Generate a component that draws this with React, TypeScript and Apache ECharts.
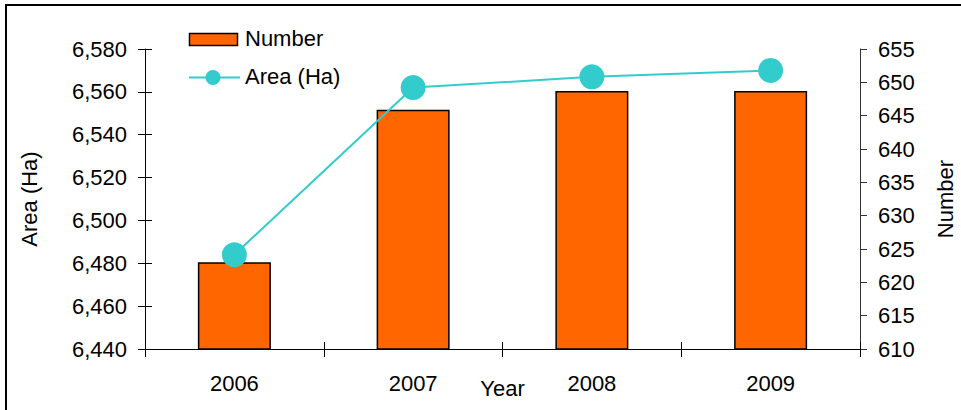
import React, { useEffect, useRef } from "react";
import * as echarts from "echarts";

const categories = ["2006", "2007", "2008", "2009"];
const numberValues = [623, 645.9, 648.7, 648.7];
const areaValues = [6484, 6562, 6567, 6570];
const areaAxis = { min: 6440, max: 6580, interval: 20 };
const numberAxis = { min: 610, max: 655, interval: 5 };
const legendNames = ["Number", "Area (Ha)"];
const axisNames = { x: "Year", left: "Area (Ha)", right: "Number" };

const FONT = "'Liberation Sans', Arial, Helvetica, sans-serif";
const FS = 22;
const ORANGE = "#FF6600";
const TEAL = "#33CCCC";

export default function App() {
  const ref = useRef<HTMLDivElement>(null);
  useEffect(() => {
    if (!ref.current) return;
    const chart = echarts.init(ref.current, undefined, { renderer: "svg" });
    const txt = { fontFamily: FONT, fontSize: FS, color: "#000" };
    chart.setOption({
      animation: false,
      backgroundColor: "#fff",
      textStyle: { fontFamily: FONT },
      grid: { left: 145, right: 101, top: 49, bottom: 61, containLabel: false, outerBoundsMode: "none" },
      xAxis: [
        {
          type: "category",
          data: categories,
          position: "bottom",
          axisLine: { show: true, lineStyle: { color: "#000", width: 1 } },
          axisTick: { show: true, length: 8, lineStyle: { color: "#000" } },
          axisLabel: { ...txt, margin: 23 },
          name: axisNames.x,
          nameLocation: "middle",
          nameGap: 28,
          nameMoveOverlap: false,
          nameTextStyle: { ...txt },
        },
        {
          type: "category",
          data: categories,
          position: "bottom",
          axisLine: { show: false },
          axisTick: { show: true, inside: true, length: 7, lineStyle: { color: "#000" } },
          axisLabel: { show: false },
        },
      ],
      yAxis: [
        {
          type: "value",
          position: "left",
          min: areaAxis.min,
          max: areaAxis.max,
          interval: areaAxis.interval,
          axisLine: { show: true, lineStyle: { color: "#000", width: 1 } },
          axisTick: { show: true, length: 7, lineStyle: { color: "#000" } },
          splitLine: { show: false },
          axisLabel: {
            ...txt,
            margin: 18,
            formatter: (v: number) => v.toLocaleString("en-US"),
          },
          name: axisNames.left,
          nameLocation: "middle",
          nameRotate: 90,
          nameGap: 105,
          nameTextStyle: { ...txt },
        },
        {
          type: "value",
          position: "right",
          min: numberAxis.min,
          max: numberAxis.max,
          interval: numberAxis.interval,
          axisLine: { show: true, lineStyle: { color: "#333", width: 1 } },
          axisTick: { show: true, length: 7, lineStyle: { color: "#333" } },
          splitLine: { show: false },
          axisLabel: { ...txt, margin: 18 },
          name: axisNames.right,
          nameLocation: "middle",
          nameRotate: 90,
          nameGap: 74,
          nameTextStyle: { ...txt },
        },
        {
          type: "value",
          position: "left",
          min: areaAxis.min,
          max: areaAxis.max,
          interval: areaAxis.interval,
          axisLine: { show: false },
          axisTick: { show: true, inside: true, length: 7, lineStyle: { color: "#000" } },
          splitLine: { show: false },
          axisLabel: { show: false },
        },
      ],
      series: [
        {
          name: legendNames[0],
          type: "bar",
          xAxisIndex: 0,
          yAxisIndex: 1,
          data: numberValues,
          barWidth: 73,
          itemStyle: { color: ORANGE, borderColor: "#000", borderWidth: 1.5 },
          z: 2,
        },
        {
          name: legendNames[1],
          type: "line",
          xAxisIndex: 0,
          yAxisIndex: 0,
          data: areaValues,
          symbol: "circle",
          symbolSize: 25,
          lineStyle: { color: TEAL, width: 2 },
          itemStyle: { color: TEAL },
          z: 3,
        },
      ],
      graphic: [
        {
          type: "rect",
          shape: { x: 6, y: 5, width: 1200, height: 800 },
          style: { fill: "none", stroke: "#000", lineWidth: 2 },
          silent: true,
          z: 10,
        },
        {
          type: "rect",
          shape: { x: 189.5, y: 33.5, width: 48, height: 12 },
          style: { fill: ORANGE, stroke: "#000", lineWidth: 1.5 },
          z: 10,
        },
        {
          type: "text",
          x: 245,
          y: 38.5,
          style: { text: legendNames[0], font: `${FS}px ${FONT}`, fill: "#000", textVerticalAlign: "middle", verticalAlign: "middle" },
          z: 10,
        },
        {
          type: "line",
          shape: { x1: 189, y1: 77.5, x2: 240, y2: 77.5 },
          style: { stroke: TEAL, lineWidth: 2 },
          z: 10,
        },
        {
          type: "circle",
          shape: { cx: 213, cy: 77.5, r: 7.5 },
          style: { fill: TEAL },
          z: 11,
        },
        {
          type: "text",
          x: 245,
          y: 76,
          style: { text: legendNames[1], font: `${FS}px ${FONT}`, fill: "#000", textVerticalAlign: "middle", verticalAlign: "middle" },
          z: 10,
        },
      ],
    });
    return () => chart.dispose();
  }, []);
  return (
    <div
      ref={ref}
      style={{ position: "absolute", left: 0, top: 0, width: 961, height: 410 }}
    />
  );
}
